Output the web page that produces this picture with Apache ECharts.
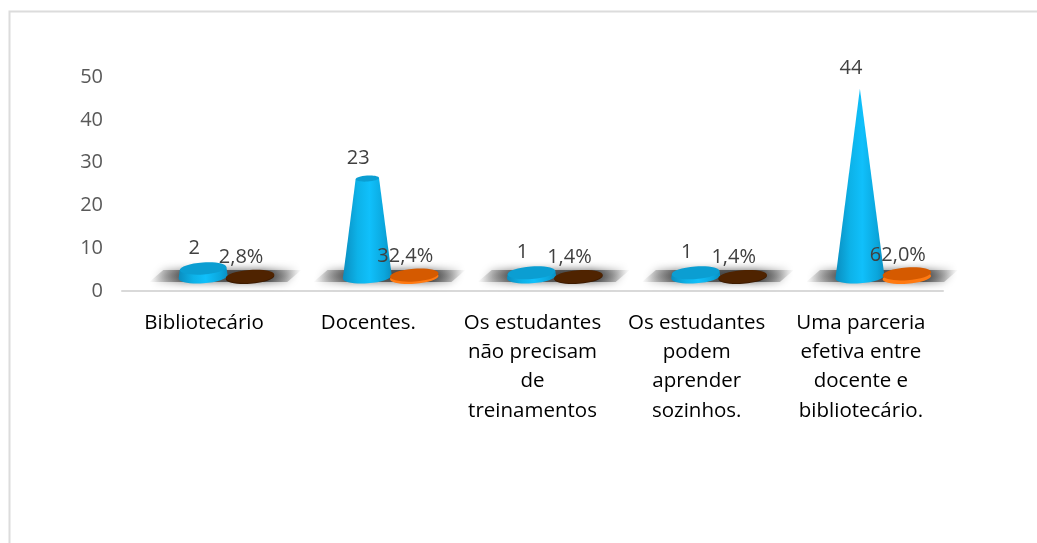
<!DOCTYPE html>
<html><head><meta charset="utf-8">
<style>html,body{margin:0;padding:0;background:#fff}#c{width:1037px;height:543px}</style>
<script src="https://cdn.jsdelivr.net/npm/echarts@6/dist/echarts.min.js"></script>
</head><body><div id="c"></div>
<script>
const categories = ["Bibliotecário", "Docentes.", "Os estudantes\nnão precisam\nde\ntreinamentos", "Os estudantes\npodem\naprender\nsozinhos.", "Uma parceria\nefetiva entre\ndocente e\nbibliotecário."];
const counts = [2, 23, 1, 1, 44];
const shares = [0.028, 0.324, 0.014, 0.014, 0.62];
const yTicks = {min: 0, max: 50, interval: 10};

const FONT = '"Open Sans", sans-serif';
const LIFT = 14, TILT = 1.6, RATIO = 0.26;
const apex = Math.max(...counts);
const chart = echarts.init(document.getElementById('c'), null, {renderer: 'canvas'});
const blueAt = (l, r) => ({type: 'linear', global: true, x: l, y: 0, x2: r, y2: 0, colorStops: [
  {offset: 0, color: '#0a8dbf'}, {offset: .3, color: '#0db2e8'}, {offset: .55, color: '#10c0fb'},
  {offset: .85, color: '#0ba6dc'}, {offset: 1, color: '#0a8fc2'}]});
const floorFill = {type: 'linear', x: 0, y: 0, x2: 1, y2: 0, colorStops: [
  {offset: 0, color: 'rgba(50,50,50,0)'}, {offset: .22, color: 'rgba(50,50,50,.6)'},
  {offset: .75, color: 'rgba(40,40,40,.75)'}, {offset: 1, color: 'rgba(50,50,50,0)'}]};

function renderCone(params, api) {
  const i = api.value(0), v = api.value(1), band = api.size([1, 0])[0];
  const cx = api.coord([i, 0])[0] - 1;
  const y0 = api.coord([i, 0])[1] - LIFT, y1 = api.coord([i, v])[1] - LIFT;
  const rx = band * 0.149, ry = rx * RATIO;
  const k = 1 - v / apex, rt = rx * k, ryt = rt * RATIO, tt = TILT * k;
  const sx = cx + band * 0.135, sy = y0 - 1;
  const fill = blueAt(cx - rx, cx + rx);
  const floor = {type: 'polygon', silent: true,
    shape: {points: [[sx - 62, sy - 6], [sx + 76, sy - 6], [sx + 62, sy + 6], [sx - 76, sy + 6]]},
    style: {fill: floorFill, shadowBlur: 9, shadowColor: 'rgba(30,30,30,.95)'}};
  const base = {type: 'ellipse', shape: {cx, cy: y0, rx, ry},
    rotation: 4 * Math.PI / 180, originX: cx, originY: y0, style: {fill}};
  const body = {type: 'polygon', shape: {points: [[cx - rx, y0 + TILT], [cx + rx, y0 - TILT], [cx + rt, y1 - tt], [cx - rt, y1 + tt]]},
    style: {fill}};
  const children = [floor, base, body];
  if (k > 0.001) children.push({type: 'ellipse', shape: {cx, cy: y1, rx: rt, ry: ryt},
    rotation: 4 * Math.PI / 180, originX: cx, originY: y1, style: {fill: '#0b9ed2'}});
  children.push({type: 'text', z2: 5, style: {text: String(v), x: cx - 9, y: y1 - 20, align: 'center', verticalAlign: 'middle',
    font: '20px ' + FONT, fill: '#404040'}});
  return {type: 'group', children};
}
function renderDisc(params, api) {
  const i = api.value(0), v = api.value(1), band = api.size([1, 0])[0];
  const cx = api.coord([i, 0])[0] + band * 0.28;
  const y0 = api.coord([i, 0])[1] - LIFT + 0.5, y1 = api.coord([i, v])[1] - LIFT + 0.5;
  const rx = band * 0.148, ry = rx * RATIO;
  const big = v > 0.1;
  const top = big ? '#d55a00' : '#4f2300', edge = big ? '#ff7a12' : '#3d1b00';
  return {type: 'group', children: [
    {type: 'ellipse', shape: {cx, cy: y0, rx, ry}, rotation: 4 * Math.PI / 180, originX: cx, originY: y0, style: {fill: edge}},
    {type: 'ellipse', shape: {cx, cy: y1 - 1, rx, ry}, rotation: 4 * Math.PI / 180, originX: cx, originY: y1 - 1, style: {fill: top}},
    {type: 'text', z2: 5, style: {text: (v * 100).toFixed(1).replace('.', ',') + '%', x: cx - 9, y: y1 - 20, align: 'center', verticalAlign: 'middle',
      font: '20px ' + FONT, fill: '#404040'}}
  ]};
}
chart.setOption({
  animation: false,
  backgroundColor: '#fff',
  graphic: [{type: 'polyline', silent: true, shape: {points: [[9.5, 543], [9.5, 11.5], [1037, 11.5]]},
    style: {stroke: '#dcdcdc', lineWidth: 2, fill: 'none'}}],
  grid: {left: 122, right: 94, top: 77, bottom: 252, containLabel: false},
  xAxis: {type: 'category', data: categories,
    axisLine: {lineStyle: {color: '#d9d9d9', width: 2}}, axisTick: {show: false},
    axisLabel: {interval: 0, margin: 17, color: '#000', fontFamily: FONT, fontSize: 20.5, lineHeight: 29.4, align: 'center'}},
  yAxis: {type: 'value', min: yTicks.min, max: yTicks.max, interval: yTicks.interval,
    splitLine: {show: false}, axisLine: {show: false}, axisTick: {show: false},
    axisLabel: {color: '#595959', fontFamily: FONT, fontSize: 20, margin: 19}},
  series: [
    {type: 'custom', name: 'Quantidade', z: 2, renderItem: renderCone, clip: false, encode: {x: 0, y: 1},
      data: counts.map((v, i) => [i, v])},
    {type: 'custom', name: 'Percentual', z: 3, renderItem: renderDisc, clip: false, encode: {x: 0, y: 1},
      data: shares.map((v, i) => [i, v])}
  ]
});
</script></body></html>
